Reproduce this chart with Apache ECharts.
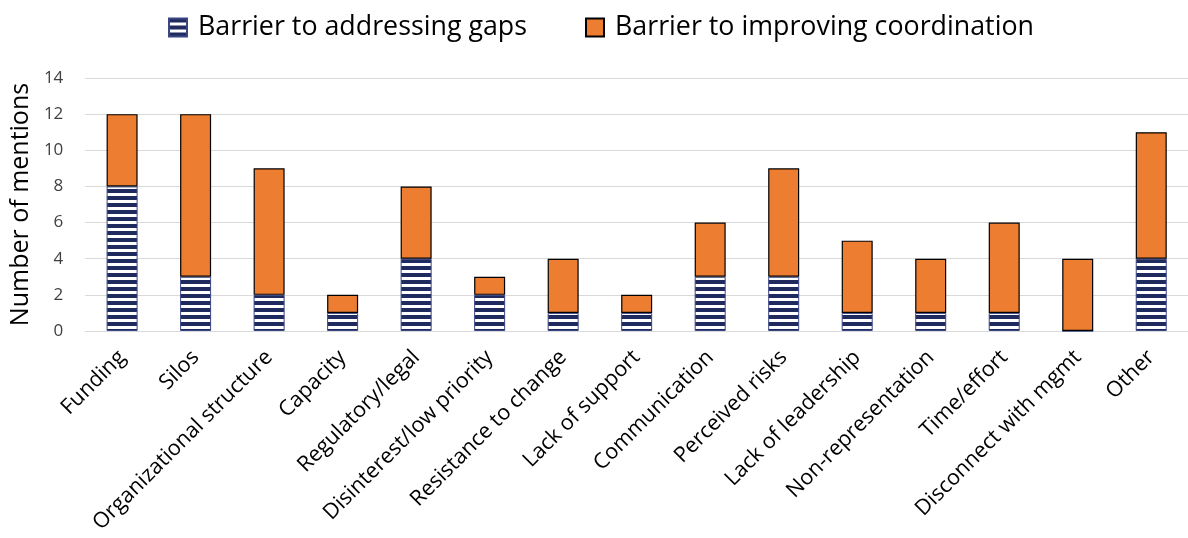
<!DOCTYPE html>
<html>
<head>
<meta charset="utf-8">
<script src="https://cdn.jsdelivr.net/npm/echarts@6/dist/echarts.min.js"></script>
<style>
  html, body { margin: 0; padding: 0; background: #fff; }
  #chart { width: 1188px; height: 538px; }
</style>
</head>
<body>
<div id="chart"></div>
<script>
// Barrier categories along the x axis
const categories = [
  'Funding', 'Silos', 'Organizational structure', 'Capacity', 'Regulatory/legal',
  'Disinterest/low priority', 'Resistance to change', 'Lack of support', 'Communication',
  'Perceived risks', 'Lack of leadership', 'Non-representation', 'Time/effort',
  'Disconnect with mgmt', 'Other'
];
// Mentions as a barrier to addressing gaps
const addressingGaps = [8, 3, 2, 1, 4, 2, 1, 1, 3, 3, 1, 1, 1, 0, 4];
// Mentions as a barrier to improving coordination
const improvingCoordination = [4, 9, 7, 1, 4, 1, 3, 1, 3, 6, 4, 3, 5, 4, 7];
const seriesNames = ['Barrier to addressing gaps', 'Barrier to improving coordination'];
const yTicks = { min: 0, max: 14, interval: 2 };

// Horizontal navy/white stripe fill
function stripePattern() {
  const c = document.createElement('canvas');
  c.width = 8; c.height = 7;
  const ctx = c.getContext('2d');
  ctx.fillStyle = '#1F2A5E';
  ctx.fillRect(0, 0, 8, 7);
  ctx.fillStyle = '#ffffff';
  ctx.fillRect(0, 4, 8, 3);
  return c;
}

const chart = echarts.init(document.getElementById('chart'), null, { renderer: 'canvas' });
const font = '"Open Sans", "Noto Sans", sans-serif';

chart.setOption({
  animation: false,
  textStyle: { fontFamily: font },
  legend: {
    top: 9,
    left: 163,
    icon: 'rect',
    itemWidth: 18,
    itemHeight: 18,
    itemGap: 58,
    textStyle: { fontFamily: font, fontSize: 26.8, color: '#000', padding: [0, 0, 0, 6] },
    data: seriesNames
  },
  grid: { left: 83, top: 78, width: 1116, bottom: 207 },
  xAxis: {
    type: 'category',
    data: categories,
    axisLine: { lineStyle: { color: '#D9D9D9', width: 1 } },
    axisTick: { show: false },
    axisLabel: {
      rotate: 45,
      interval: 0,
      margin: 23,
      fontFamily: font,
      fontSize: 21.5,
      color: '#000'
    }
  },
  yAxis: {
    type: 'value',
    min: yTicks.min,
    max: yTicks.max,
    interval: yTicks.interval,
    name: 'Number of mentions',
    nameLocation: 'middle',
    nameGap: 46,
    nameTextStyle: { fontFamily: font, fontSize: 25, color: '#000' },
    axisLine: { show: false },
    axisTick: { show: false },
    axisLabel: { fontFamily: font, fontSize: 17, color: '#404040', margin: 22 },
    splitLine: { lineStyle: { color: '#D9D9D9', width: 1 } }
  },
  series: [
    {
      name: seriesNames[0],
      type: 'bar',
      stack: 'total',
      barWidth: 31,
      data: addressingGaps,
      itemStyle: {
        color: { image: stripePattern(), repeat: 'repeat' },
        borderColor: '#3A4684',
        borderWidth: 1
      }
    },
    {
      name: seriesNames[1],
      type: 'bar',
      stack: 'total',
      barWidth: 31,
      data: improvingCoordination,
      itemStyle: {
        color: '#ED7D31',
        borderColor: '#000',
        borderWidth: 1.2
      }
    }
  ]
});
</script>
</body>
</html>
